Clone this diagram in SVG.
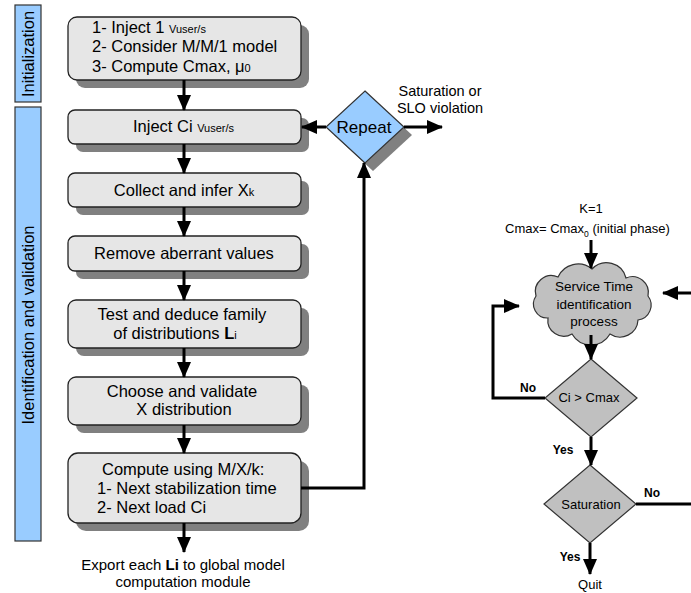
<svg xmlns="http://www.w3.org/2000/svg" width="691" height="593" viewBox="0 0 691 593">
<defs>
<marker id="ah" viewBox="0 0 16 14" refX="15" refY="7" markerWidth="16" markerHeight="14" markerUnits="userSpaceOnUse" orient="auto">
<path d="M0,0 L16,7 L0,14 Z" fill="#000"/>
</marker>
</defs>
<style>
text{font-family:"Liberation Sans",Arial,sans-serif;fill:#000}
.bar{fill:#99ccff;stroke:#333;stroke-width:1.2}
.box{fill:#e6e6e6;stroke:#222;stroke-width:1.3}
.sh{fill:#808080}
.t{font-size:16.5px}
.s{font-size:11px}
.c{text-anchor:middle}
.r{font-size:13px}
.b{font-size:12px;font-weight:bold}
.ln{fill:none;stroke:#000;stroke-width:3}
.arr{fill:none;stroke:#000;stroke-width:3;marker-end:url(#ah)}
.dg{fill:#c0c0c0;stroke:#333;stroke-width:1.2}
</style>
<rect width="691" height="593" fill="#fff"/>

<g id="bar-init">
<rect class="bar" x="15" y="5" width="26" height="97"/>
<text class="t c" transform="translate(34,54) rotate(-90)">Initialization</text>
</g>
<g id="bar-ident">
<rect class="bar" x="15" y="107" width="26" height="434"/>
<text class="t c" transform="translate(34,325) rotate(-90)" font-size="17">Identification and validation</text>
</g>

<g id="box1">
<rect class="sh" x="76" y="25" width="233" height="63" rx="9"/>
<rect class="box" x="68" y="17" width="233" height="63" rx="9"/>
<text class="t" x="92" y="33">1- Inject 1 <tspan class="s">Vuser/s</tspan></text>
<text class="t" x="92" y="52">2- Consider M/M/1 model</text>
<text class="t" x="92" y="72">3- Compute Cmax, μ<tspan class="s">0</tspan></text>
</g>
<g id="box2">
<rect class="sh" x="76" y="118" width="233" height="34" rx="7"/>
<rect class="box" x="68" y="110" width="233" height="34" rx="7"/>
<text class="t" x="133" y="132">Inject Ci <tspan class="s">Vuser/s</tspan></text>
</g>
<g id="box3">
<rect class="sh" x="76" y="181" width="233" height="34" rx="7"/>
<rect class="box" x="68" y="173" width="233" height="34" rx="7"/>
<text class="t c" x="184" y="196">Collect and infer X<tspan class="s">k</tspan></text>
</g>
<g id="box4">
<rect class="sh" x="76" y="244" width="233" height="35" rx="7"/>
<rect class="box" x="68" y="236" width="233" height="35" rx="7"/>
<text class="t c" x="184" y="259">Remove aberrant values</text>
</g>
<g id="box5">
<rect class="sh" x="76" y="308" width="233" height="48" rx="8"/>
<rect class="box" x="68" y="300" width="233" height="48" rx="8"/>
<text class="t c" x="182" y="320">Test and deduce family</text>
<text class="t c" x="175" y="339">of distributions <tspan font-weight="bold">L</tspan><tspan class="s">i</tspan></text>
</g>
<g id="box6">
<rect class="sh" x="76" y="385" width="233" height="48" rx="8"/>
<rect class="box" x="68" y="377" width="233" height="48" rx="8"/>
<text class="t c" x="182" y="397">Choose and validate</text>
<text class="t c" x="184" y="415">X distribution</text>
</g>
<g id="box7">
<rect class="sh" x="76" y="461" width="233" height="70" rx="10"/>
<rect class="box" x="68" y="453" width="233" height="70" rx="10"/>
<text class="t" x="102" y="475">Compute using M/X/k:</text>
<text class="t" x="97" y="494">1- Next stabilization time</text>
<text class="t" x="97" y="513">2- Next load Ci</text>
</g>

<g id="repeat">
<polygon class="sh" points="373,99 412,135 373,171 334,135"/>
<polygon points="365,91 404,127 365,163 326,127" fill="#99ccff" stroke="#333" stroke-width="1.2"/>
<text class="c" x="364" y="133" font-size="17">Repeat</text>
</g>

<g id="export-label">
<text class="c" x="183" y="570" font-size="15">Export each <tspan font-weight="bold">Li</tspan> to global model</text>
<text class="c" x="183" y="587" font-size="15">computation module</text>
</g>
<g id="sat-label">
<text class="c" x="440" y="96" font-size="14.5">Saturation or</text>
<text class="c" x="440" y="113" font-size="14.5">SLO violation</text>
</g>

<g id="start-label">
<text class="r c" x="591" y="213">K=1</text>
<text class="r" x="505" y="233">Cmax= Cmax<tspan font-size="8.5" dy="4">0</tspan><tspan dy="-4"> (initial phase)</tspan></text>
</g>

<g id="cloud">
<path class="dg" d="M548,318 A14,14 0 0 1 536,296 A16,16 0 0 1 558,277 A22,22 0 0 1 592,269 A20,20 0 0 1 626,278 A16,16 0 0 1 648,296 A15,15 0 0 1 638,320 A18,18 0 0 1 610,334 A22,22 0 0 1 572,334 A16,16 0 0 1 548,318 Z"/>
<text class="c" x="594" y="291" font-size="13.5">Service Time</text>
<text class="c" x="594" y="309" font-size="13.5">identification</text>
<text class="c" x="594" y="326" font-size="13.5">process</text>
</g>

<g id="dec1">
<polygon class="dg" points="591,359 637,398 591,437 545,398"/>
<text class="r c" x="589" y="402">Ci &gt; Cmax</text>
</g>
<g id="dec2">
<polygon class="dg" points="590,465 636,504 590,543 544,504"/>
<text class="r c" x="591" y="509">Saturation</text>
</g>
<g id="quit">
<text class="r c" x="590" y="589">Quit</text>
</g>

<g id="connectors">
<line class="arr" x1="184" y1="80" x2="184" y2="110"/>
<line class="arr" x1="184" y1="144" x2="184" y2="173"/>
<line class="arr" x1="184" y1="207" x2="184" y2="236"/>
<line class="arr" x1="184" y1="271" x2="184" y2="300"/>
<line class="arr" x1="184" y1="348" x2="184" y2="377"/>
<line class="arr" x1="184" y1="425" x2="184" y2="453"/>
<line class="arr" x1="184" y1="523" x2="184" y2="552"/>
<line class="arr" x1="326" y1="127" x2="302" y2="127"/>
<line class="arr" x1="404" y1="127" x2="442" y2="127"/>
<polyline class="arr" points="301,488 364,488 364,163"/>

<line class="arr" x1="591" y1="240" x2="591" y2="268"/>
<line class="arr" x1="691" y1="293" x2="663" y2="293"/>
<polyline class="arr" points="545,398 493,398 493,306 519,306"/>
<line class="arr" x1="591" y1="335" x2="591" y2="359"/>
<line class="arr" x1="591" y1="437" x2="591" y2="465"/>
<line class="ln" x1="636" y1="504" x2="691" y2="504"/>
<line class="arr" x1="590" y1="543" x2="590" y2="574"/>
<text class="b c" x="528" y="392">No</text>
<text class="b c" x="563" y="454">Yes</text>
<text class="b c" x="652" y="497">No</text>
<text class="b c" x="570" y="561">Yes</text>
</g>
</svg>
